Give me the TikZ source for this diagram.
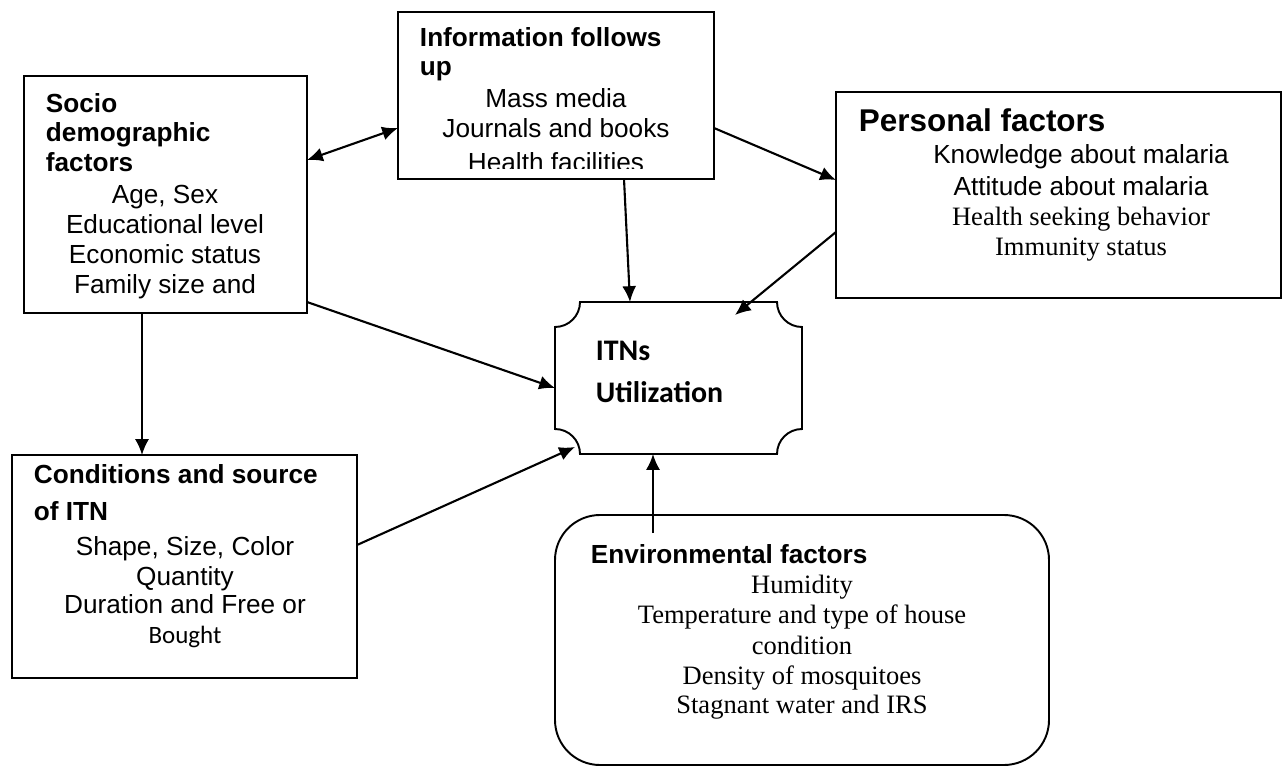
\documentclass[tikz,border=0pt]{standalone}
\usepackage{fontspec}
\setmainfont{Liberation Sans}
\newfontfamily\tnr{Liberation Serif}
\newfontfamily\calib{Carlito}
\usetikzlibrary{arrows.meta}

\begin{document}
\begin{tikzpicture}[
	line width=1.1pt,
	arr/.style={line width=1.2pt,-{Latex[length=9pt,width=8pt]}},
	txt/.style={inner sep=0pt,anchor=base,font=\fontsize{14.9}{17}\selectfont},
	head/.style={inner sep=0pt,anchor=base west,font=\fontsize{14.9}{17}\selectfont\bfseries}]
\useasboundingbox (0,0) rectangle (25.72,15.40);

	% boxes
	\begin{scope}[every node/.style={draw,inner sep=0pt,outer sep=0pt}]
		\node[minimum width=5.66cm,minimum height=4.74cm] (socio) at (3.31,11.51) {};
		\node[minimum width=6.32cm,minimum height=3.34cm] (info) at (11.12,13.49) {};
		\node[minimum width=8.90cm,minimum height=4.12cm] (pers) at (21.17,11.50) {};
		\node[minimum width=6.90cm,minimum height=4.46cm] (cond) at (3.69,4.07) {};
		\node[rounded corners=9mm,minimum width=9.88cm,minimum height=5.00cm] (env) at (16.04,2.60) {};
		\node[draw=none,minimum width=4.94cm,minimum height=3.04cm] (itn) at (13.57,7.84) {};
	\end{scope}

	% ITN box with cut-in corners
	\draw ([xshift=5mm]itn.north west) -- ([xshift=-5mm]itn.north east)
		arc[start angle=180,end angle=270,radius=5mm] -- ([yshift=5mm]itn.south east)
		arc[start angle=90,end angle=180,radius=5mm] -- ([xshift=5mm]itn.south west)
		arc[start angle=0,end angle=90,radius=5mm] -- ([yshift=-5mm]itn.north west)
		arc[start angle=270,end angle=360,radius=5mm] -- cycle;

	% socio demographic
	\foreach \y/\t [count=\i] in {13.16/Socio,12.58/demographic,11.98/factors}
		\node[head] (socioh\i) at (0.90,\y) {\t};
	\foreach \y/\t [count=\i] in {11.34/{Age, Sex},10.74/Educational level,10.14/Economic status,9.54/Family size and}
		\node[txt] (socio\i) at (3.30,\y) {\t};

	% information
	\node[head] (infoh1) at (8.38,14.46) {Information follows};
	\node[head] (infoh2) at (8.38,13.88) {up};
	\begin{scope}
		\clip (7.96,12.04) rectangle (14.28,15.16);
		\foreach \y/\t [count=\i] in {13.24/Mass media,12.64/Journals and books,11.98/Health facilities}
			\node[txt] (info\i) at (11.12,\y) {\t};
	\end{scope}

	% personal
	\node[head,font=\fontsize{17.9}{20}\selectfont\bfseries] (persh) at (17.16,12.78) {Personal factors};
	\node[txt] (pers1) at (21.62,12.14) {Knowledge about malaria};
	\node[txt] (pers2) at (21.62,11.50) {Attitude about malaria};
	\node[txt,font=\fontsize{15.1}{17}\selectfont\tnr] (pers3) at (21.62,10.90) {Health seeking behavior};
	\node[txt,font=\fontsize{15.1}{17}\selectfont\tnr] (pers4) at (21.62,10.30) {Immunity status};

	% conditions
	\node[head] (condh1) at (0.66,5.74) {Conditions and source};
	\node[head] (condh2) at (0.66,5.00) {of ITN};
	\foreach \y/\t [count=\i] in {4.30/{Shape, Size, Color},3.70/Quantity,3.14/Duration and Free or}
		\node[txt] (cond\i) at (3.70,\y) {\t};
	\node[txt,font=\fontsize{14.2}{17}\selectfont\calib] (cond4) at (3.70,2.54) {Bought};

	% environment
	\node[head] (envh) at (11.80,4.14) {Environmental factors};
	\foreach \y/\t [count=\i] in {3.54/Humidity,2.94/Temperature and type of house,2.32/condition,1.72/Density of mosquitoes,1.14/Stagnant water and IRS}
		\node[txt,font=\fontsize{15.1}{17}\selectfont\tnr] (env\i) at (16.04,\y) {\t};

	% ITNs
	\begin{scope}[every node/.style={inner sep=0pt,anchor=base west,font=\fontsize{17}{20}\selectfont\calib\bfseries}]
		\node (itn1) at (11.90,8.20) {ITNs};
		\node (itn2) at (11.90,7.36) {Utilization};
	\end{scope}

	% arrows
	\coordinate (persend) at ([xshift=11.3mm,yshift=-2.6mm]itn.north);
	\coordinate (condend) at ([xshift=4mm,yshift=1.4mm]itn.south west);
	\coordinate (envtop) at (13.06,4.74);
	\draw[arr,{Latex[length=9pt,width=8pt]}-{Latex[length=9pt,width=8pt]}] (socio.east |- 0,12.20) -- (info.west |- 0,12.84);
	\draw[arr] (info.east |- 0,12.84) -- (pers.west |- 0,11.80);
	\draw[arr] (info.south -| 12.48,0) -- (itn.north -| 12.60,0);
	\draw[arr] (pers.west |- 0,10.76) -- (persend);
	\draw[arr] (socio.east |- 0,9.36) -- (itn.west |- 0,7.64);
	\draw[arr] (socio.south -| 2.84,0) -- (cond.north -| 2.84,0);
	\draw[arr] (cond.east |- 0,4.50) -- (condend);
	\draw[arr] (envtop) -- (itn.south -| 13.06,0);
\end{tikzpicture}
\end{document}
